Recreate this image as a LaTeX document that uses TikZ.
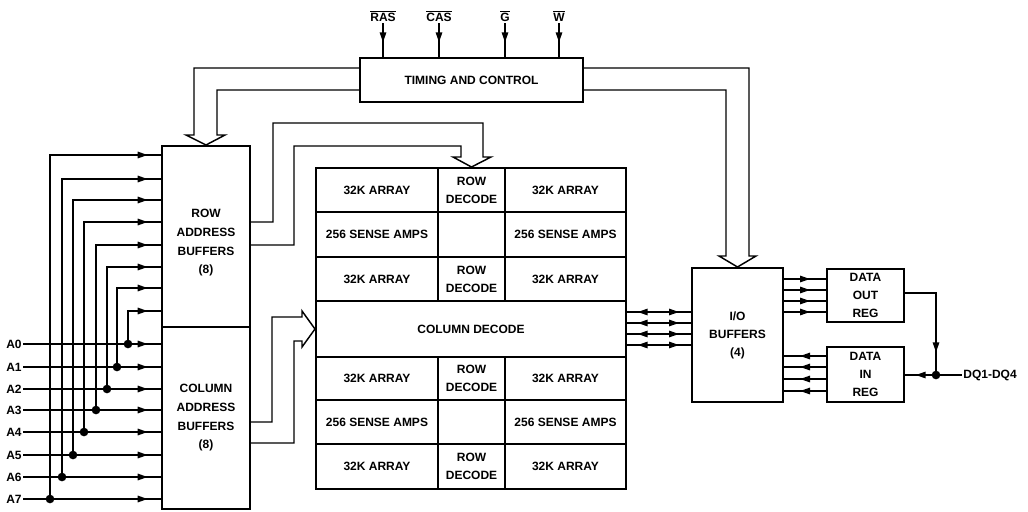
\documentclass[tikz,border=0pt]{standalone}
\usepackage{fontspec}
\setmainfont{Liberation Sans}
\usetikzlibrary{arrows.meta,decorations.markings}
\tikzset{
  ftip/.tip={Triangle[length=7.5pt,width=4.8pt]},
  lbl/.style={font=\fontsize{9}{13.5}\selectfont\bfseries, inner sep=1pt},
  box/.style={draw, line width=1.5pt, inner sep=0pt, align=center, font=\fontsize{9}{13.5}\selectfont\bfseries},
  wire/.style={line width=1.3pt},
  hollow/.style={line width=1.1pt, line join=miter},
  arrowat/.style={wire, postaction={decorate, decoration={markings, mark=at position #1 with {\arrow{ftip}}}}},
  bidir/.style={wire, postaction={decorate, decoration={markings, mark=at position 8pt with {\arrowreversed{ftip}}, mark=at position -9pt with {\arrow{ftip}}}}},
  jdot/.style={circle, fill, inner sep=0pt, minimum size=6.5pt},
}
\begin{document}
\begin{tikzpicture}[x=0.75pt,y=-0.75pt]
\useasboundingbox (0,0) rectangle (1028,511);

% timing and control
\node[box, minimum width=167.25pt, minimum height=33pt] (tc) at (471.5,80) {TIMING AND CONTROL};
\node[lbl] (ras) at (383,16) {$\overline{\hbox{RAS}}$};
\node[lbl] (cas) at (439,16) {$\overline{\hbox{CAS}}$};
\node[lbl] (g) at (505,16) {$\overline{\hbox{G}}$};
\node[lbl] (w) at (559,16) {$\overline{\hbox{W}}$};
\foreach \s in {ras,cas,g,w}{
  \draw[arrowat=-11pt] (\s.south) -- (\s.south |- tc.north);
}

% address buffers
\node[box, minimum width=66pt, minimum height=135.75pt] (rowbuf) at (206,236.5) {};
\node[lbl, align=center, font=\fontsize{9}{14}\selectfont\bfseries] (rowtxt) at (206,243) {ROW\\ADDRESS\\BUFFERS\\(8)};
\node[box, minimum width=66pt, minimum height=136.5pt, font=\fontsize{9}{14}\selectfont\bfseries] (colbuf) at (206,418) {COLUMN\\ADDRESS\\BUFFERS\\(8)};

% memory array
\node[box, minimum width=91.5pt, minimum height=33pt] (a1) at (377,190) {32K ARRAY};
\node[box, minimum width=50.25pt, minimum height=33pt] (rd1) at (471.5,190) {ROW\\DECODE};
\node[box, minimum width=90.75pt, minimum height=33pt] (a2) at (565.5,190) {32K ARRAY};
\node[box, minimum width=91.5pt, minimum height=33.75pt] (s1) at (377,234.5) {256 SENSE AMPS};
\node[box, minimum width=50.25pt, minimum height=33.75pt] (e1) at (471.5,234.5) {};
\node[box, minimum width=90.75pt, minimum height=33.75pt] (s2) at (565.5,234.5) {256 SENSE AMPS};
\node[box, minimum width=91.5pt, minimum height=33pt] (a3) at (377,279) {32K ARRAY};
\node[box, minimum width=50.25pt, minimum height=33pt] (rd2) at (471.5,279) {ROW\\DECODE};
\node[box, minimum width=90.75pt, minimum height=33pt] (a4) at (565.5,279) {32K ARRAY};
\node[box, minimum width=232.5pt, minimum height=42pt] (cd) at (471,329) {COLUMN DECODE};
\node[box, minimum width=91.5pt, minimum height=32.25pt] (a5) at (377,378.5) {32K ARRAY};
\node[box, minimum width=50.25pt, minimum height=32.25pt] (rd3) at (471.5,378.5) {ROW\\DECODE};
\node[box, minimum width=90.75pt, minimum height=32.25pt] (a6) at (565.5,378.5) {32K ARRAY};
\node[box, minimum width=91.5pt, minimum height=33pt] (s3) at (377,422) {256 SENSE AMPS};
\node[box, minimum width=50.25pt, minimum height=33pt] (e2) at (471.5,422) {};
\node[box, minimum width=90.75pt, minimum height=33pt] (s4) at (565.5,422) {256 SENSE AMPS};
\node[box, minimum width=91.5pt, minimum height=33.75pt] (a7) at (377,466.5) {32K ARRAY};
\node[box, minimum width=50.25pt, minimum height=33.75pt] (rd4) at (471.5,466.5) {ROW\\DECODE};
\node[box, minimum width=90.75pt, minimum height=33.75pt] (a8) at (565.5,466.5) {32K ARRAY};

% I/O and data registers
\node[box, minimum width=68.25pt, minimum height=100.5pt] (io) at (737.5,335) {I/O\\BUFFERS\\(4)};
\node[box, minimum width=57.75pt, minimum height=39.75pt] (dout) at (865.5,295.5) {DATA\\OUT\\REG};
\node[box, minimum width=57.75pt, minimum height=41.25pt] (din) at (865.5,374.5) {DATA\\IN\\REG};
\node[lbl] (dq) at (990,375) {DQ1-DQ4};
\node[jdot] (dqdot) at (936,375) {};

% hollow bus arrows
\draw[hollow] (tc.west |- 0,68) -- (194,68) -- (194,135) -- (186,135) -- (rowbuf.north)
  -- (225,135) -- (217,135) -- (217,90) -- (tc.west |- 0,90);
\draw[hollow] (tc.east |- 0,68) -- (749,68) -- (749,256) -- (756,256) -- (io.north)
  -- (719,256) -- (726,256) -- (726,90) -- (tc.east |- 0,90);
\draw[hollow] (rowbuf.east |- 0,222) -- (273,222) -- (273,123) -- (483,123) -- (483,157) -- (491,157)
  -- (rd1.north) -- (453,157) -- (461,157) -- (461,146) -- (294,146) -- (294,245) -- (rowbuf.east |- 0,245);
\draw[hollow] (colbuf.east |- 0,422) -- (272,422) -- (272,317) -- (302,317) -- (302,311) -- (cd.west)
  -- (302,347) -- (302,341) -- (294,341) -- (294,443) -- (colbuf.east |- 0,443);

% address inputs
\foreach \i/\y/\x/\yr in {0/344/128/311, 1/367/117/288, 2/389/107/267, 3/410/96/245, 4/432/84/222, 5/455/73/200, 6/477/62/179, 7/499/50/155}{
  \node[lbl] (A\i) at (14,\y) {A\i};
  \node[jdot] (d\i) at (\x,\y) {};
  \draw[arrowat=-10pt] (A\i.east) -- (colbuf.west |- A\i);
  \draw[arrowat=-10pt] (d\i.center) |- (rowbuf.west |- 0,\yr);
}

% column decode <-> I/O
\foreach \y in {312,323,334,345}{
  \draw[bidir] (cd.east |- 0,\y) -- (io.west |- 0,\y);
}
% I/O -> data out
\foreach \y in {279,290,301,312}{
  \draw[arrowat=-12pt] (io.east |- 0,\y) -- (dout.west |- 0,\y);
}
% data in -> I/O
\foreach \y in {356,367,379,391}{
  \draw[arrowat=-12pt] (din.west |- 0,\y) -- (io.east |- 0,\y);
}
% data out -> DQ, DQ -> data in
\draw[arrowat=-17pt] (dout.east |- 0,293) -| (dqdot.center);
\draw[arrowat=-8pt] (dq.west) -- (din.east |- dq.west);
\end{tikzpicture}
\end{document}
